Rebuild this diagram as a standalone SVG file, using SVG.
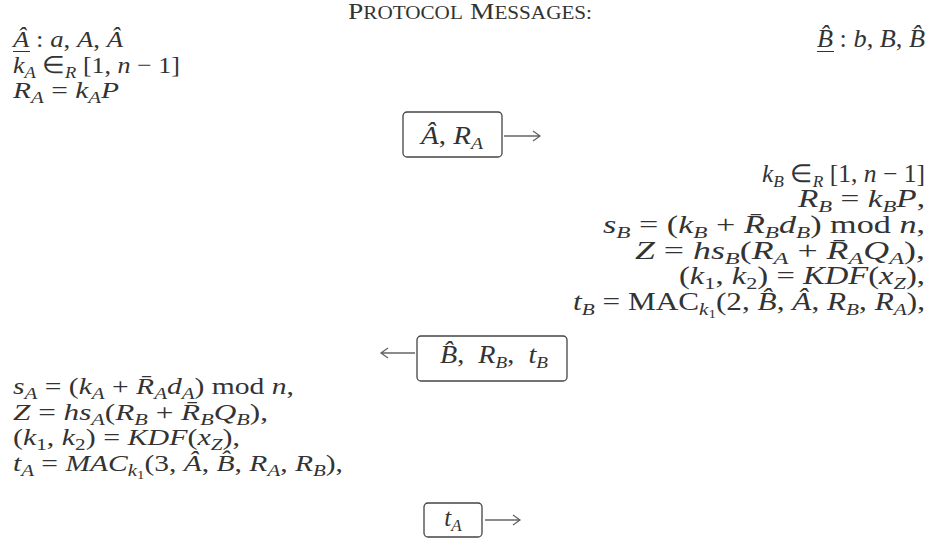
<svg xmlns="http://www.w3.org/2000/svg" width="933" height="541" viewBox="0 0 933 541">
<style>
.t{font-family:"Liberation Serif","Times New Roman",serif;font-size:25px;fill:#333;}
.l{font-size:24px}
.i{font-style:italic}
.b{font-size:17px;baseline-shift:-5px}
.bb{font-size:12px;baseline-shift:-3px}
.big{font-size:24px}
.sc{font-size:18.5px}
.box{fill:#fff;stroke:#444;stroke-width:1.3}
.ar{fill:none;stroke:#666;stroke-width:1.3}
.ul{stroke:#333;stroke-width:1}
</style>
<rect width="933" height="541" fill="#fff"/>
<g id="title">
<text class="t" x="348" y="19" textLength="244" lengthAdjust="spacingAndGlyphs"><tspan class="big">P</tspan><tspan class="sc">ROTOCOL</tspan> <tspan class="big">M</tspan><tspan class="sc">ESSAGES:</tspan></text>
</g>
<g id="alice-init">
<text class="t l" x="13" y="47" textLength="110" lengthAdjust="spacingAndGlyphs"><tspan class="i">Â</tspan> : <tspan class="i">a</tspan>, <tspan class="i">A</tspan>, <tspan class="i">Â</tspan></text>
<line class="ul" x1="13" y1="51.5" x2="30" y2="51.5"/>
<text class="t l" x="13" y="72.7" textLength="167" lengthAdjust="spacingAndGlyphs"><tspan class="i">k</tspan><tspan class="b i">A</tspan> ∈<tspan class="b i">R</tspan> [1, <tspan class="i">n</tspan> − 1]</text>
<text class="t l" x="13" y="98.4" textLength="106" lengthAdjust="spacingAndGlyphs"><tspan class="i">R</tspan><tspan class="b i">A</tspan> = <tspan class="i">k</tspan><tspan class="b i">A</tspan><tspan class="i">P</tspan></text>
</g>
<g id="bob-init">
<text class="t" x="925" y="47" text-anchor="end" textLength="108" lengthAdjust="spacingAndGlyphs"><tspan class="i">B&#x302;</tspan> : <tspan class="i">b</tspan>, <tspan class="i">B</tspan>, <tspan class="i">B&#x302;</tspan></text>
<line class="ul" x1="817" y1="51.5" x2="834" y2="51.5"/>
</g>
<g id="bob-compute">
<text class="t" x="925" y="181.5" text-anchor="end" textLength="163" lengthAdjust="spacingAndGlyphs"><tspan class="i">k</tspan><tspan class="b i">B</tspan> ∈<tspan class="b i">R</tspan> [1, <tspan class="i">n</tspan> − 1]</text>
<text class="t" x="925" y="207.2" text-anchor="end" textLength="127" lengthAdjust="spacingAndGlyphs"><tspan class="i">R</tspan><tspan class="b i">B</tspan> = <tspan class="i">k</tspan><tspan class="b i">B</tspan><tspan class="i">P</tspan>,</text>
<text class="t" x="925" y="232.9" text-anchor="end" textLength="322" lengthAdjust="spacingAndGlyphs"><tspan class="i">s</tspan><tspan class="b i">B</tspan> = (<tspan class="i">k</tspan><tspan class="b i">B</tspan> + <tspan class="i">R&#x304;</tspan><tspan class="b i">B</tspan><tspan class="i">d</tspan><tspan class="b i">B</tspan>) mod <tspan class="i">n</tspan>,</text>
<text class="t" x="925" y="258.6" text-anchor="end" textLength="290" lengthAdjust="spacingAndGlyphs"><tspan class="i">Z</tspan> = <tspan class="i">hs</tspan><tspan class="b i">B</tspan>(<tspan class="i">R</tspan><tspan class="b i">A</tspan> + <tspan class="i">R&#x304;</tspan><tspan class="b i">A</tspan><tspan class="i">Q</tspan><tspan class="b i">A</tspan>),</text>
<text class="t" x="925" y="284.3" text-anchor="end" textLength="246" lengthAdjust="spacingAndGlyphs">(<tspan class="i">k</tspan><tspan class="b">1</tspan>, <tspan class="i">k</tspan><tspan class="b">2</tspan>) = <tspan class="i">KDF</tspan>(<tspan class="i">x</tspan><tspan class="b i">Z</tspan>),</text>
<text class="t" x="925" y="310" text-anchor="end" textLength="352" lengthAdjust="spacingAndGlyphs"><tspan class="i">t</tspan><tspan class="b i">B</tspan> = MAC<tspan class="b"><tspan class="i">k</tspan><tspan class="bb">1</tspan></tspan>(2, <tspan class="i">B&#x302;</tspan>, <tspan class="i">Â</tspan>, <tspan class="i">R</tspan><tspan class="b i">B</tspan>, <tspan class="i">R</tspan><tspan class="b i">A</tspan>),</text>
</g>
<g id="alice-compute">
<text class="t l" x="13" y="394" textLength="281" lengthAdjust="spacingAndGlyphs"><tspan class="i">s</tspan><tspan class="b i">A</tspan> = (<tspan class="i">k</tspan><tspan class="b i">A</tspan> + <tspan class="i">R&#x304;</tspan><tspan class="b i">A</tspan><tspan class="i">d</tspan><tspan class="b i">A</tspan>) mod <tspan class="i">n</tspan>,</text>
<text class="t l" x="13" y="419.7" textLength="255" lengthAdjust="spacingAndGlyphs"><tspan class="i">Z</tspan> = <tspan class="i">hs</tspan><tspan class="b i">A</tspan>(<tspan class="i">R</tspan><tspan class="b i">B</tspan> + <tspan class="i">R&#x304;</tspan><tspan class="b i">B</tspan><tspan class="i">Q</tspan><tspan class="b i">B</tspan>),</text>
<text class="t l" x="13" y="445.4" textLength="227" lengthAdjust="spacingAndGlyphs">(<tspan class="i">k</tspan><tspan class="b">1</tspan>, <tspan class="i">k</tspan><tspan class="b">2</tspan>) = <tspan class="i">KDF</tspan>(<tspan class="i">x</tspan><tspan class="b i">Z</tspan>),</text>
<text class="t l" x="13" y="471.1" textLength="330" lengthAdjust="spacingAndGlyphs"><tspan class="i">t</tspan><tspan class="b i">A</tspan> = <tspan class="i">MAC</tspan><tspan class="b"><tspan class="i">k</tspan><tspan class="bb">1</tspan></tspan>(3, <tspan class="i">Â</tspan>, <tspan class="i">B&#x302;</tspan>, <tspan class="i">R</tspan><tspan class="b i">A</tspan>, <tspan class="i">R</tspan><tspan class="b i">B</tspan>),</text>
</g>
<g id="msg1">
<rect class="box" x="403" y="112" width="99" height="45" rx="4"/>
<text class="t" x="421" y="144" textLength="62" lengthAdjust="spacingAndGlyphs"><tspan class="i">Â</tspan>, <tspan class="i">R</tspan><tspan class="b i">A</tspan></text>
</g>
<g id="msg2">
<rect class="box" x="417" y="336" width="150" height="45" rx="4"/>
<text class="t" x="440" y="363" textLength="108" lengthAdjust="spacingAndGlyphs"><tspan class="i">B&#x302;</tspan>,&#160; <tspan class="i">R</tspan><tspan class="b i">B</tspan>,&#160; <tspan class="i">t</tspan><tspan class="b i">B</tspan></text>
</g>
<g id="msg3">
<rect class="box" x="424" y="503" width="58" height="34" rx="4"/>
<text class="t" x="453" y="526" text-anchor="middle"><tspan class="i">t</tspan><tspan class="b i">A</tspan></text>
</g>
<g id="connectors">
<path class="ar" d="M504,136 H540 M533,131 L540,136 L533,141"/>
<path class="ar" d="M415,353 H381 M388,348 L381,353 L388,358"/>
<path class="ar" d="M485,520 H520 M513,515 L520,520 L513,525"/>
</g>
</svg>
